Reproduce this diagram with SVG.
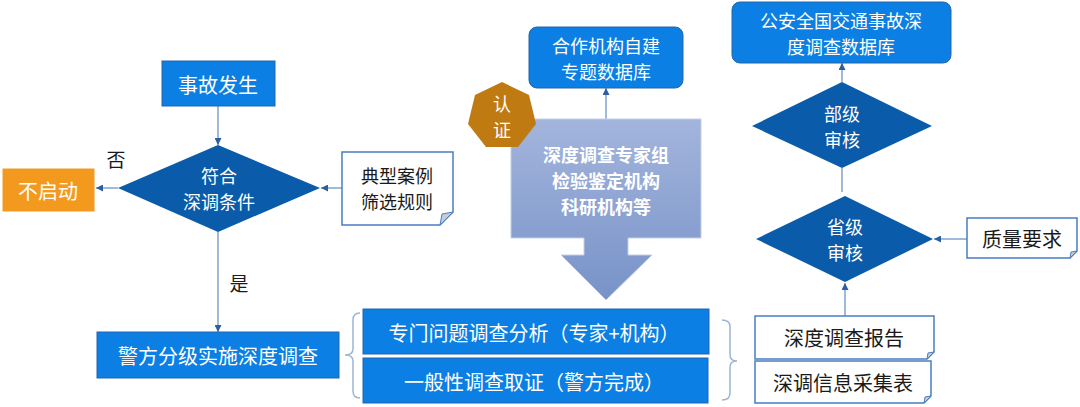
<svg xmlns="http://www.w3.org/2000/svg" width="1080" height="407" viewBox="0 0 1080 407">
<defs>
<marker id="ah" viewBox="0 0 10 10" refX="10" refY="5" markerWidth="7" markerHeight="7" orient="auto-start-reverse" markerUnits="userSpaceOnUse">
<path d="M0,0 L10,5 L0,10 z" fill="#2F5E9E"/>
</marker>
<linearGradient id="gArrow" x1="0" y1="0" x2="0" y2="1">
<stop offset="0" stop-color="#A3B5DC"/>
<stop offset="1" stop-color="#7892C8"/>
</linearGradient>
</defs>
<style>
text{font-family:"Noto Sans CJK SC","Noto Sans",sans-serif;text-anchor:middle;dominant-baseline:central}
.w{fill:#fff;font-size:20px}
.k{fill:#1a1a1a;font-size:20px}
.m{font-size:18px}
.box{fill:#0B7FE3;stroke:#2466A8;stroke-width:1}
.dia{fill:#0A5BAA}
.note{fill:#fff;stroke:#4A7EC0;stroke-width:1.5}
.fold{fill:#C8CCD2;stroke:#4A7EC0;stroke-width:1}
.con{stroke:#7FA5D0;stroke-width:1.5;fill:none}
.br{stroke:#9DB4D4;stroke-width:1.5;fill:none}
.bw{fill:#fff;font-size:18px;font-weight:bold}
</style>
<rect width="1080" height="407" fill="#fff"/>

<g id="connectors">
<line class="con" x1="218" y1="106" x2="218" y2="145" marker-end="url(#ah)"/>
<line class="con" x1="118" y1="188" x2="96" y2="188" marker-end="url(#ah)"/>
<line class="con" x1="342" y1="188" x2="321" y2="188" marker-end="url(#ah)"/>
<line class="con" x1="218" y1="232" x2="218" y2="332" marker-end="url(#ah)"/>
<line class="con" x1="606" y1="119" x2="606" y2="88" marker-end="url(#ah)"/>
<line class="con" x1="842" y1="82" x2="842" y2="63" marker-end="url(#ah)"/>
<line class="con" x1="842" y1="168" x2="842" y2="192"/>
<line class="con" x1="967" y1="239" x2="934" y2="239" marker-end="url(#ah)"/>
<line class="con" x1="845" y1="316" x2="845" y2="283" marker-end="url(#ah)"/>
<path class="br" d="M360,313 Q353,313 353,320 L353,349 Q353,355 345,355 Q353,355 353,361 L353,391 Q353,398 360,398"/>
<path class="br" d="M722,320 Q730,320 730,327 L730,355 Q730,361 737,361 Q730,361 730,367 L730,393 Q730,400 722,400"/>
<text x="116" y="158" class="k" style="font-size:19px">否</text>
<text x="239" y="282" class="k" style="font-size:19px">是</text>
</g>

<g id="n-start">
<rect class="box" x="162" y="61" width="113" height="45"/>
<text x="218" y="84" class="w">事故发生</text>
</g>

<g id="n-cond">
<polygon class="dia" points="218,145 320,188 218,232 118,188"/>
<text class="w m"><tspan x="219" y="175">符合</tspan><tspan x="219" y="201">深调条件</tspan></text>
</g>

<g id="n-no">
<rect x="2" y="168" width="93" height="44" fill="#F39A1E" stroke="#fff" stroke-width="1"/>
<text x="48" y="190" class="w">不启动</text>
</g>

<g id="n-rules">
<path class="note" d="M342,152 L453,152 L453,212 L440,225 L342,225 Z"/>
<path class="fold" d="M453,212 L440,225 L442,214 Z"/>
<text class="k m"><tspan x="397" y="175">典型案例</tspan><tspan x="397" y="201">筛选规则</tspan></text>
</g>

<g id="n-police">
<rect class="box" x="97" y="332" width="242" height="46"/>
<text x="218" y="355" class="w">警方分级实施深度调查</text>
</g>

<g id="n-special">
<rect class="box" x="363" y="309" width="346" height="45"/>
<text x="534" y="332" class="w">专门问题调查分析（专家+机构）</text>
</g>

<g id="n-general">
<rect class="box" x="363" y="358" width="345" height="45"/>
<text x="534" y="381" class="w">一般性调查取证（警方完成）</text>
</g>

<g id="n-experts">
<path d="M511,119 L701,119 L701,238 L628,238 L628,255 L652,255 L606,300 L561,255 L584,255 L584,238 L511,238 Z" fill="url(#gArrow)" stroke="#C3CFE8" stroke-width="1"/>
<text class="bw"><tspan x="606" y="154">深度调查专家组</tspan><tspan x="606" y="180">检验鉴定机构</tspan><tspan x="606" y="206">科研机构等</tspan></text>
</g>

<g id="n-cert">
<polygon points="502,82 529,95 536,124 518,147 486,147 468,124 475,95" fill="#C07A12"/>
<text class="w m"><tspan x="502" y="103">认</tspan><tspan x="502" y="129">证</tspan></text>
</g>

<g id="n-coopdb">
<rect class="box" x="529" y="27" width="154" height="61" rx="8"/>
<text class="w m"><tspan x="606" y="45">合作机构自建</tspan><tspan x="606" y="71">专题数据库</tspan></text>
</g>

<g id="n-natdb">
<rect class="box" x="732" y="2" width="219" height="61" rx="8"/>
<text class="w m"><tspan x="841" y="20">公安全国交通事故深</tspan><tspan x="841" y="46">度调查数据库</tspan></text>
</g>

<g id="n-ministry">
<polygon class="dia" points="842,82 932,126 842,168 752,126"/>
<text class="w m"><tspan x="842" y="113">部级</tspan><tspan x="842" y="139">审核</tspan></text>
</g>

<g id="n-province">
<polygon class="dia" points="845,196 933,239 845,282 756,239"/>
<text class="w m"><tspan x="845" y="226">省级</tspan><tspan x="845" y="252">审核</tspan></text>
</g>

<g id="n-quality">
<path class="note" d="M967,218 L1077,218 L1077,251 L1070,258 L967,258 Z"/>
<path class="fold" d="M1077,251 L1070,258 L1071,252 Z"/>
<text x="1022" y="238" class="k">质量要求</text>
</g>

<g id="n-report">
<path class="note" d="M755,316 L934,316 L934,352 L927,359 L755,359 Z"/>
<path class="fold" d="M934,352 L927,359 L928,353 Z"/>
<text x="844" y="337" class="k">深度调查报告</text>
</g>

<g id="n-form">
<path class="note" d="M755,361 L931,361 L931,396 L924,403 L755,403 Z"/>
<path class="fold" d="M931,396 L924,403 L925,397 Z"/>
<text x="843" y="382" class="k">深调信息采集表</text>
</g>
</svg>
